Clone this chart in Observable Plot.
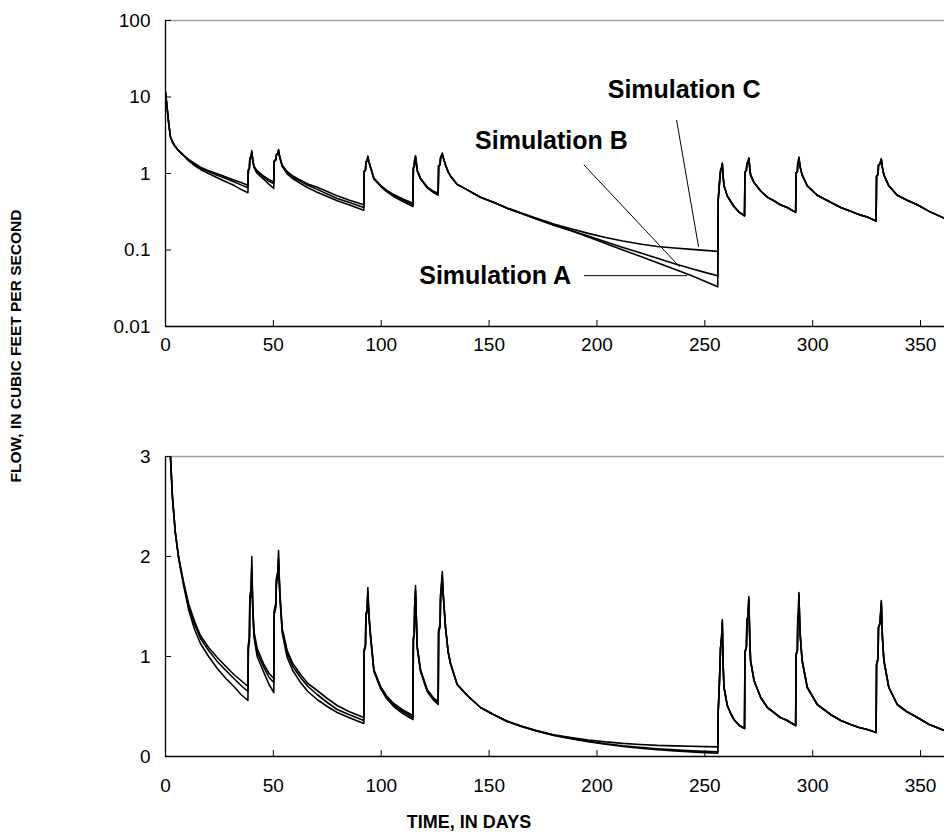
<!DOCTYPE html>
<html>
<head>
<meta charset="utf-8">
<script src="https://cdn.jsdelivr.net/npm/d3@7"></script>
<script src="https://cdn.jsdelivr.net/npm/@observablehq/plot@0.6"></script>
<style>
  body { margin: 0; background: #fff; }
  #wrap { position: relative; width: 944px; height: 832px; overflow: hidden; background: #fff;
          font-family: "Liberation Sans", Arial, sans-serif; color: #000; }
  #top, #bottom { position: absolute; left: 0; }
  #top { top: 0; }
  #bottom { top: 400px; }
  .ytitle { position: absolute; left: 16px; top: 346px; transform: translate(-50%, -50%) rotate(-90deg);
            font-weight: bold; font-size: 15.5px; white-space: nowrap; }
  .xtitle { position: absolute; left: 469px; top: 822px; transform: translate(-50%, -50%);
            font-weight: bold; font-size: 18px; white-space: nowrap; }
</style>
</head>
<body>
<div id="wrap">
  <div id="top"></div>
  <div id="bottom"></div>
  <div class="ytitle">FLOW, IN CUBIC FEET PER SECOND</div>
  <div class="xtitle">TIME, IN DAYS</div>
</div>
<script>
// ---- data ----
const days = [
  0,0.7,1.5,2.3,3.2,4.5,6,7.2,8.5,10.8,13.5,16.2,20,24,28,31.7,35,38.2,
  38.4,38.9,39.1,39.7,40.0,40.4,41.0,42.5,45.6,48,50.2,
  50.4,51.2,51.4,52.0,52.4,53.0,54.1,56.4,59,62.6,66,70.3,75,79.6,85,91.9,
  92.1,92.7,92.9,93.4,93.8,94.3,95.0,96.6,99.7,102.5,105.8,110,114.7,
  114.9,115.3,115.5,115.9,116.3,116.7,118.2,121.3,124.4,126.4,
  126.6,127.3,127.5,128.3,128.8,129.8,131,132.1,135.2,139.9,146,152,158.4,165,172,180,188,196,204,212,220,228,236,244,250,256,
  256.2,256.8,257.3,257.8,258.1,258.5,258.9,260.4,262,263.5,266,268.4,
  268.6,269.3,269.5,270.0,270.4,270.8,271.2,272.8,275.9,279,282,285,288.2,292.1,
  292.3,292.9,293.1,293.4,293.6,294.1,295.1,297.5,302.1,308.3,313,317.6,321.5,325.3,329.4,
  329.6,330.3,330.5,331.2,331.8,332.3,333,335.3,339.2,343.5,348.5,354,361.1
];
const simA = [
  11.5,7.5,4.5,3.0,2.6,2.25,2.0,1.85,1.7,1.46,1.27,1.13,1.0,0.88,0.78,0.70,0.62,0.56,
  1.08,1.15,1.58,1.66,2.0,1.5,1.2,1.0,0.84,0.72,0.64,
  1.42,1.5,1.76,1.82,2.06,1.6,1.24,0.99,0.86,0.74,0.65,0.57,0.5,0.44,0.39,0.33,
  1.05,1.1,1.42,1.45,1.69,1.4,1.2,0.85,0.68,0.58,0.5,0.43,0.37,
  1.17,1.2,1.5,1.71,1.35,1.08,0.85,0.65,0.56,0.52,
  1.24,1.3,1.6,1.85,1.6,1.29,1.05,0.93,0.72,0.61,0.49,0.42,0.35,0.30,0.255,0.21,0.178,0.148,0.122,0.10,0.083,0.068,0.056,0.046,0.039,0.033,
  0.45,0.76,1.09,1.2,1.37,0.9,0.69,0.51,0.43,0.37,0.31,0.28,
  1.04,1.1,1.36,1.4,1.6,1.2,0.96,0.76,0.59,0.49,0.44,0.39,0.36,0.31,
  1.02,1.06,1.39,1.42,1.64,1.25,0.96,0.69,0.52,0.42,0.36,0.32,0.29,0.27,0.24,
  0.92,0.98,1.29,1.33,1.56,1.2,0.96,0.69,0.52,0.45,0.39,0.32,0.26
];
const simB = [
  11.5,7.5,4.5,3.0,2.6,2.25,2.0,1.86,1.72,1.5,1.32,1.18,1.06,0.95,0.86,0.78,0.71,0.65,
  1.1,1.18,1.6,1.68,1.9,1.52,1.22,1.04,0.89,0.79,0.74,
  1.44,1.52,1.78,1.84,1.98,1.62,1.26,1.03,0.9,0.79,0.70,0.62,0.54,0.47,0.42,0.36,
  1.06,1.11,1.43,1.46,1.65,1.41,1.22,0.86,0.69,0.59,0.515,0.45,0.39,
  1.18,1.21,1.51,1.66,1.36,1.09,0.86,0.66,0.57,0.535,
  1.25,1.31,1.62,1.8,1.6,1.29,1.05,0.93,0.72,0.61,0.49,0.42,0.35,0.30,0.255,0.212,0.18,0.152,0.128,0.108,0.092,0.078,0.066,0.057,0.051,0.046,
  0.45,0.76,1.09,1.2,1.35,0.9,0.69,0.51,0.43,0.37,0.31,0.28,
  1.04,1.1,1.36,1.4,1.58,1.2,0.96,0.76,0.59,0.49,0.44,0.39,0.36,0.31,
  1.02,1.06,1.39,1.42,1.62,1.25,0.96,0.69,0.52,0.42,0.36,0.32,0.29,0.27,0.24,
  0.92,0.98,1.29,1.33,1.54,1.2,0.96,0.69,0.52,0.45,0.39,0.32,0.26
];
const simC = [
  11.5,7.5,4.5,3.0,2.6,2.25,2.0,1.87,1.73,1.52,1.35,1.21,1.09,0.99,0.9,0.82,0.76,0.70,
  1.12,1.2,1.55,1.62,1.85,1.55,1.25,1.08,0.92,0.83,0.78,
  1.46,1.54,1.72,1.8,1.92,1.65,1.28,1.06,0.93,0.82,0.73,0.66,0.58,0.51,0.45,0.39,
  1.07,1.12,1.4,1.44,1.6,1.42,1.23,0.87,0.70,0.605,0.53,0.465,0.41,
  1.19,1.22,1.48,1.62,1.37,1.1,0.87,0.67,0.58,0.55,
  1.26,1.32,1.58,1.74,1.6,1.29,1.05,0.93,0.72,0.61,0.49,0.42,0.355,0.305,0.26,0.218,0.19,0.165,0.146,0.131,0.12,0.111,0.106,0.102,0.099,0.096,
  0.45,0.76,1.09,1.2,1.32,0.9,0.69,0.51,0.43,0.37,0.31,0.28,
  1.04,1.1,1.36,1.4,1.56,1.2,0.96,0.76,0.59,0.49,0.44,0.39,0.36,0.31,
  1.02,1.06,1.39,1.42,1.6,1.25,0.96,0.69,0.52,0.42,0.36,0.32,0.29,0.27,0.24,
  0.92,0.98,1.29,1.33,1.52,1.2,0.96,0.69,0.52,0.45,0.39,0.32,0.26
];
const xTicks = [0, 50, 100, 150, 200, 250, 300, 350];
const logTicks = [0.01, 0.1, 1, 10, 100];
const linTicks = [0, 1, 2, 3];

// annotation labels and leader lines (data coordinates: day, flow)
const annoLabels = ["Simulation A", "Simulation B", "Simulation C"];
const annoDay = [152.8, 178.9, 240.4];
const annoFlow = [0.0451, 2.63, 12.4];
const leaderDay1 = [194, 193.9, 236.9];
const leaderFlow1 = [0.0462, 1.30, 5.0];
const leaderDay2 = [241.8, 238.3, 247.1];
const leaderFlow2 = [0.0462, 0.0605, 0.11];

// ---- build tables ----
const series = [["A", simA], ["B", simB], ["C", simC]];
const rows = series.flatMap(([name, vals]) => days.map((d, i) => ({sim: name, day: d, flow: vals[i]})));
const annos = annoLabels.map((t, i) => ({text: t, x: annoDay[i], y: annoFlow[i],
  x1: leaderDay1[i], y1: leaderFlow1[i], x2: leaderDay2[i], y2: leaderFlow2[i]}));

const xDomain = [0, 361.1];
const font = "Liberation Sans, Arial, sans-serif";

const topPlot = Plot.plot({
  width: 944, height: 360,
  marginLeft: 165, marginRight: 0, marginTop: 20, marginBottom: 34,
  style: {fontFamily: font, fontSize: "19px", color: "#000", background: "white"},
  x: {domain: xDomain, ticks: xTicks, tickSize: 0, tickPadding: 11, label: null},
  y: {type: "log", domain: [0.01, 100], ticks: logTicks, tickSize: 0, tickPadding: 15,
      tickFormat: d => String(d), label: null},
  marks: [
    Plot.ruleY([100], {stroke: "#a0a0a0", strokeWidth: 1.5}),
    Plot.tickX(xTicks, {x: d => d, insetTop: 300, stroke: "#000"}),
    Plot.tickY(logTicks, {y: d => d, insetRight: 773, stroke: "#000"}),
    Plot.line(rows, {x: "day", y: "flow", z: "sim", stroke: "#000", strokeWidth: 1.6, clip: true}),
    Plot.link(annos, {x1: "x1", y1: "y1", x2: "x2", y2: "y2", stroke: "#000", strokeWidth: 1}),
    Plot.text(annos, {x: "x", y: "y", text: "text", fontSize: 25, fontWeight: "bold", fill: "#000",
                      lineAnchor: "middle", textAnchor: "middle"}),
    Plot.ruleX([0], {stroke: "#000", strokeWidth: 1.3}),
    Plot.ruleY([0.01], {stroke: "#000", strokeWidth: 1.3})
  ]
});
document.getElementById("top").appendChild(topPlot);

const bottomPlot = Plot.plot({
  width: 944, height: 400,
  marginLeft: 165, marginRight: 0, marginTop: 56, marginBottom: 44,
  style: {fontFamily: font, fontSize: "19px", color: "#000", background: "white"},
  x: {domain: xDomain, ticks: xTicks, tickSize: 0, tickPadding: 22, label: null},
  y: {domain: [0, 3], ticks: linTicks, tickSize: 0, tickPadding: 15, tickFormat: d => String(d), label: null},
  marks: [
    Plot.ruleY([3], {stroke: "#a0a0a0", strokeWidth: 1.5}),
    Plot.tickX(xTicks, {x: d => d, insetTop: 294, stroke: "#000"}),
    Plot.tickY(linTicks, {y: d => d, insetRight: 773, stroke: "#000"}),
    Plot.line(rows, {x: "day", y: "flow", z: "sim", stroke: "#000", strokeWidth: 1.6, clip: true}),
    Plot.ruleX([0], {stroke: "#000", strokeWidth: 1.3}),
    Plot.ruleY([0], {stroke: "#000", strokeWidth: 1.3})
  ]
});
document.getElementById("bottom").appendChild(bottomPlot);
</script>
</body>
</html>
